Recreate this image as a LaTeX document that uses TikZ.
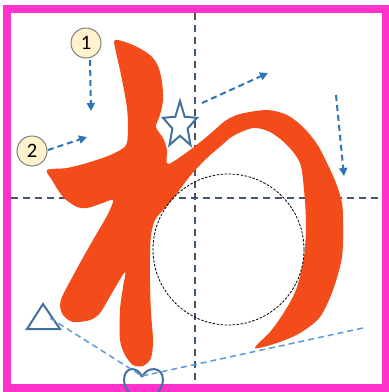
\documentclass[tikz,border=0pt]{standalone}
\usepackage{fontspec}
\setmainfont{Carlito}
\usetikzlibrary{arrows.meta}

\definecolor{pinkframe}{HTML}{FF33CC}
\definecolor{guidegray}{HTML}{44546A}
\definecolor{inkorange}{HTML}{F34B1A}
\definecolor{arrowblue}{HTML}{2E75B6}
\definecolor{shapeblue}{HTML}{41719C}
\definecolor{linkblue}{HTML}{5B9BD5}
\definecolor{numfill}{HTML}{FFF2CC}

\tikzstyle{frame} = [draw=pinkframe, line width=8pt]
\tikzstyle{guide} = [draw=guidegray, line width=2pt, dash pattern=on 7pt off 5pt]
\tikzstyle{arrow} = [draw=arrowblue, line width=2pt, dash pattern=on 6pt off 4pt, -{Triangle[length=8pt,width=8pt]}]
\tikzstyle{num} = [circle, draw=gray, fill=numfill, line width=1pt, minimum size=30pt, inner sep=0pt, font=\fontsize{20.5}{20.5}\selectfont]
\tikzstyle{outline} = [draw=shapeblue, line width=2pt, line join=miter]
\tikzstyle{link} = [draw=linkblue, line width=1.5pt, dash pattern=on 6pt off 4pt]

\begin{document}
\begin{tikzpicture}[x=1pt, y=-1pt]
\useasboundingbox (0,0) rectangle (389,392);
\fill[white] (0,0) rectangle (389,392);

% frame and guide cross
\draw [frame] (6.5,9) rectangle (385.5,387.5);
\draw [guide] (195,13) -- (195,383);
\draw [guide] (11,197.5) -- (382,197.5);

% the character
\fill [inkorange] plot[smooth cycle, tension=0.5] coordinates {
 (115,40) (133,45) (150,55) (158,66) (162,82) (163,100) (160,115) (156,127)
 (163,138) (167,150) (168,164)
 (190,150) (210,134) (225,121) (240,114) (267,110) (287,115) (303,127)
 (317,144) (327,163) (336,183) (342,203) (343,223) (342,257) (333,290)
 (320,317) (300,333) (277,343) (255,348)
 (270,332) (283,314) (296,290) (304,257) (306,223) (304,190) (300,163)
 (287,145) (270,132) (253,128) (233,136) (222,145) (207,158) (190,176)
 (172,200) (163,210) (155,220) (151,235) (150,255) (150,283) (151,313)
 (153,340) (151,358) (143,366) (133,365) (125,355) (120,340) (120,310)
 (123,287) (125,272)
 (112,293) (100,313) (90,320) (73,322) (63,315) (60,305) (62,297)
 (67,287) (80,263) (93,240) (100,228) (108,214) (113,200)
 (100,204) (87,208) (77,207) (65,199) (58,190) (52,180) (47,170)
 (67,168) (87,163) (108,156) (122,149) (127,143)
 (128,125) (127,108) (124,90) (120,70) (116,52)};

\draw [black, line width=0.8pt, dash pattern=on 2.5pt off 1.5pt] (228.5,249.5) circle (75.5);

% numbers and strokes order
\node (n1) [num] at (86,43) {1};
\node (n2) [num] at (32,151) {2};

\coordinate (a1s) at (90,60);
\coordinate (a1e) at (91,111);
\coordinate (a2s) at (48,150);
\coordinate (a2e) at (87,137);
\coordinate (a3s) at (202,103);
\coordinate (a3e) at (268,73);
\coordinate (a4s) at (336,95);
\coordinate (a4e) at (344,176);

\draw [arrow] (a1s) -- (a1e);
\draw [arrow] (a2s) -- (a2e);
\draw [arrow] (a3s) -- (a3e);
\draw [arrow] (a4s) -- (a4e);

% star
\filldraw [outline, fill=white] (180,125.3)
  +(-90:17.9 and 24.3) -- +(-54:8 and 10.5) -- +(-18:17.9 and 24.3) -- +(18:8 and 10.5)
  -- +(54:17.9 and 24.3) -- +(90:8 and 10.5) -- +(126:17.9 and 24.3) -- +(162:8 and 10.5)
  -- +(198:17.9 and 24.3) -- +(234:8 and 10.5) -- cycle;

% triangle and heart
\draw [outline] (43,304) -- (60,329) -- (27,329) -- cycle;
\draw [outline] (142,377) .. controls (138,366) and (124,366) .. (124,380)
  .. controls (124,392) and (138,400) .. (143,410)
  .. controls (148,400) and (163,392) .. (163,380)
  .. controls (163,366) and (147,366) .. (142,377);

\coordinate (tri) at (50,318);
\coordinate (heart) at (142,376);
\coordinate (far) at (363,328);
\draw [link] (tri) -- (heart);
\draw [link] (heart) -- (far);

\end{tikzpicture}
\end{document}
